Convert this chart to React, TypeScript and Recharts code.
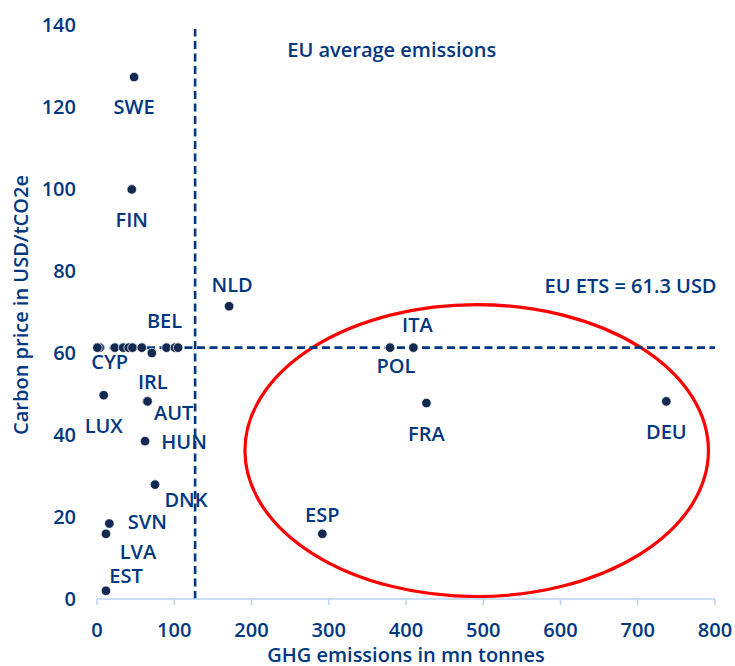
import { ScatterChart, Scatter, XAxis, YAxis, ReferenceLine, ReferenceArea, ReferenceDot } from 'recharts';

const BLUE = '#003781';
const DOT = '#13294f';
const FONT = '"Open Sans", sans-serif';

// country labels ("" = unlabelled point)
const countries = ['SWE', 'FIN', 'NLD', 'BEL', 'CYP', '', '', '', '', '', '', '', '', '', 'IRL', 'AUT', 'LUX', 'HUN', 'DNK', 'SVN', 'LVA', 'EST', 'ESP', 'FRA', 'DEU', 'POL', 'ITA'];
// GHG emissions, mn tonnes
const emissions = [48, 45, 171, 90, 3.5, 0.5, 23, 34, 41, 46, 58, 101, 105, 71, 64.5, 65.5, 8.7, 62.2, 75.1, 16, 11.6, 11.6, 291.7, 426.4, 737, 379.3, 409.6];
// carbon price, USD/tCO2e
const prices = [127.3, 99.9, 71.4, 61.3, 61.3, 61.3, 61.3, 61.3, 61.3, 61.3, 61.3, 61.3, 61.3, 60.0, 48.2, 48.2, 49.7, 38.5, 27.9, 18.4, 15.9, 2.0, 15.9, 47.8, 48.2, 61.3, 61.3];

const xTicks = [0, 100, 200, 300, 400, 500, 600, 700, 800];
const yTicks = [0, 20, 40, 60, 80, 100, 120, 140];

const euAverageEmissions = 127;
const euEtsPrice = 61.3;

// label placement relative to the dot, in pixels
const labelOffset: Record<string, [number, number]> = {
  SWE: [0, 29], FIN: [0, 30], NLD: [3, -22], BEL: [-2, -27], CYP: [10, 14],
  IRL: [6, -20], AUT: [26, 11], LUX: [0, 30], HUN: [39, 0], DNK: [31, 15],
  SVN: [38, -2], LVA: [32, 18], EST: [20, -15], ESP: [0, -19], FRA: [0, 30],
  DEU: [0, 30], POL: [6, 18], ITA: [4, -23],
};

const data = countries.map((name, i) => ({ name, x: emissions[i], y: prices[i] }));

const textStyle = { fill: BLUE, fontSize: 20, fontWeight: 600, fontFamily: FONT };

function CountryDot(props: any) {
  const { cx, cy, payload } = props;
  const off = labelOffset[payload.name];
  return (
    <g>
      <circle cx={cx} cy={cy} r={4.8} fill={DOT} stroke="#fff" strokeWidth={0.8} />
      {payload.name && off && (
        <text x={cx + off[0]} y={cy + off[1]} textAnchor="middle" dominantBaseline="central" {...textStyle}>
          {payload.name}
        </text>
      )}
    </g>
  );
}

function note(text: string, anchor: string) {
  return (props: any) => {
    const vb = props.viewBox || {};
    const x = (vb.x ?? 0) + (vb.width ?? 0) / 2;
    const y = (vb.y ?? 0) + (vb.height ?? 0) / 2;
    return (
      <text x={x} y={y} textAnchor={anchor} dominantBaseline="central" {...textStyle}>
        {text}
      </text>
    );
  };
}

export default function App() {
  return (
    <div style={{ position: 'absolute', left: 0, top: 0, fontFamily: FONT }}>
      <ScatterChart width={735} height={666} margin={{ top: 25, right: 20, bottom: 1, left: 0 }}>
        <XAxis
          type="number"
          dataKey="x"
          domain={[0, 800]}
          ticks={xTicks}
          interval={0}
          height={66}
          axisLine={{ stroke: '#b9d5f3', strokeWidth: 1.5 }}
          tickLine={{ stroke: '#b9d5f3', strokeWidth: 1.5 }}
          tickSize={6}
          tickMargin={18}
          tick={textStyle}
          label={{
            content: () => (
              <text x={406} y={654} textAnchor="middle" dominantBaseline="central" {...textStyle}>
                GHG emissions in mn tonnes
              </text>
            ),
          }}
        />
        <YAxis
          type="number"
          dataKey="y"
          domain={[0, 140]}
          ticks={yTicks}
          interval={0}
          width={97}
          axisLine={false}
          tickLine={false}
          tickSize={0}
          tickMargin={21}
          tick={textStyle}
          label={{
            content: () => (
              <text x={20} y={305} transform="rotate(-90 20 305)" textAnchor="middle" dominantBaseline="central" {...textStyle}>
                Carbon price in USD/tCO2e
              </text>
            ),
          }}
        />
        <ReferenceLine
          segment={[{ x: 0, y: euEtsPrice }, { x: 800, y: euEtsPrice }]}
          stroke={BLUE}
          strokeWidth={2.6}
          strokeDasharray="8 4.5"
          ifOverflow="visible"
        />
        <ReferenceLine
          segment={[{ x: euAverageEmissions, y: 0 }, { x: euAverageEmissions, y: 139 }]}
          stroke={BLUE}
          strokeWidth={2.6}
          strokeDasharray="8 4.5"
          ifOverflow="visible"
        />
        <ReferenceArea
          x1={191.5}
          x2={791.5}
          y1={0.6}
          y2={71.8}
          ifOverflow="visible"
          shape={(p: any) => (
            <ellipse
              cx={p.x + p.width / 2}
              cy={p.y + p.height / 2}
              rx={Math.abs(p.width) / 2}
              ry={Math.abs(p.height) / 2}
              fill="none"
              stroke="#ff0000"
              strokeWidth={3.2}
            />
          )}
        />
        <ReferenceDot x={381.5} y={134} r={0} fill="none" stroke="none" ifOverflow="visible" label={{ content: note('EU average emissions', 'middle') }} />
        <ReferenceDot x={802} y={76.5} r={0} fill="none" stroke="none" ifOverflow="visible" label={{ content: note('EU ETS = 61.3 USD', 'end') }} />
        <Scatter data={data} shape={CountryDot} isAnimationActive={false} />
      </ScatterChart>
    </div>
  );
}
